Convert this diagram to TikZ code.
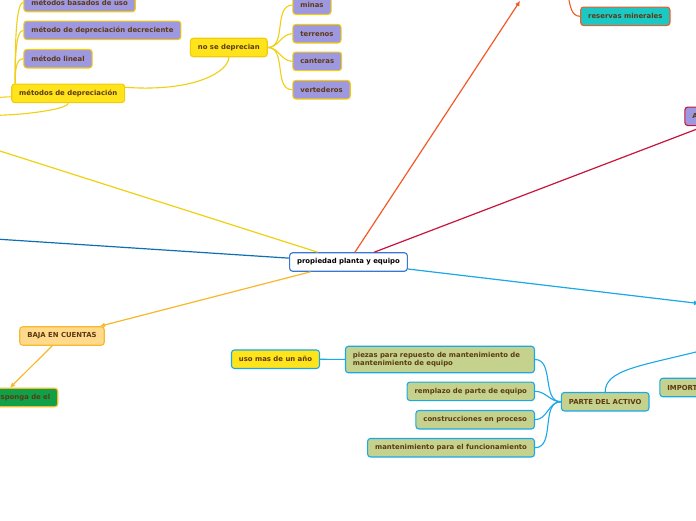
\documentclass[tikz,border=0pt]{standalone}
\usepackage{fontspec}
\setmainfont{DejaVu Sans}
\usepackage{tikz}
\usetikzlibrary{arrows.meta,positioning,calc}

\definecolor{txtbrown}{HTML}{5C3A12}
\definecolor{ylwfill}{HTML}{FFE31B}
\definecolor{ylwedge}{HTML}{F2CB0C}
\definecolor{ylwline}{HTML}{F0D010}
\definecolor{purfill}{HTML}{9E98E0}
\definecolor{cyanfill}{HTML}{1CC8C4}
\definecolor{orgline}{HTML}{F25A28}
\definecolor{crimline}{HTML}{C8143C}
\definecolor{dblline}{HTML}{0F6FB3}
\definecolor{lblline}{HTML}{1AA8E8}
\definecolor{olivefill}{HTML}{C4D28E}
\definecolor{bajafill}{HTML}{FFDA8C}
\definecolor{bajaline}{HTML}{F8B82A}
\definecolor{grnfill}{HTML}{10A048}
\definecolor{mainline}{HTML}{3A75D8}

\begin{document}
\begin{tikzpicture}[
    x=1pt, y=1pt,
    >={Latex[length=5pt,width=5pt]},
    box/.style={rounded corners=3pt, line width=1.1pt,
        font=\fontsize{6.9}{8.3}\selectfont\bfseries, text=txtbrown,
        inner xsep=7.5pt, inner ysep=2pt, minimum height=18.5pt},
    topic/.style={box, draw=mainline, fill=white, text=black},
    ylwbox/.style={box, draw=ylwedge, fill=ylwfill},
    purbox/.style={box, draw=ylwedge, fill=purfill},
    olivebox/.style={box, draw=lblline, fill=olivefill},
    branch/.style={line width=1.2pt},
    twig/.style={line width=1.1pt},
]
\useasboundingbox (0,0) rectangle (696,-520);
\fill[white] (0,0) rectangle (696,-520);
\clip (0,0) rectangle (696,-520);

% central topic
\node[topic] (main) at (348.5,-262) {propiedad planta y equipo};

% yellow branch
\node[ylwbox] (metdep) at (68.2,-93.3) {métodos de depreciación};
\node[purbox, anchor=west] (lineal) at (23.3,-58.7) {método lineal};
\node[purbox, anchor=west] (decrec) at (23.3,-30.3) {método de depreciación decreciente};
\node[purbox, anchor=west] (basados) at (23.3,-2.5) {métodos basados de uso};
\node[ylwbox] (nosedep) at (228.8,-47.5) {no se deprecian};
\node[purbox, anchor=west] (minas) at (292.3,-5.2) {minas};
\node[purbox, anchor=west] (terrenos) at (292.3,-33.7) {terrenos};
\node[purbox, anchor=west] (canteras) at (292.3,-61.3) {canteras};
\node[purbox, anchor=west] (vertederos) at (292.3,-89.7) {vertederos};

% top right
\node[box, draw=orgline, fill=cyanfill] (reservas) at (625.3,-16.3) {reservas minerales};
\node[box, draw=crimline, fill=purfill, anchor=west, text width=76pt, align=left]
    (anode) at (684.3,-116.3) {A};

% bottom left
\node[box, draw=bajaline, fill=bajafill] (baja) at (62,-336) {BAJA EN CUENTAS};
\node[box, draw=bajaline, fill=grnfill, anchor=east, text width=100pt, align=right]
    (disp) at (58.3,-397.5) {disponga de el};

% bottom right
\node[box, draw=lblline, fill=ylwfill] (uso) at (275.5,-359.2) {uso mas de un año};
\node[olivebox, anchor=east, text width=174pt, align=left, minimum height=26.5pt]
    (piezas) at (535,-359.5)
    {piezas para repuesto de mantenimiento de\\mantenimiento de equipo};
\node[olivebox, anchor=east] (remplazo) at (535,-391.3) {remplazo de parte de equipo};
\node[olivebox, anchor=east] (constr) at (535,-419.7) {construcciones en proceso};
\node[olivebox, anchor=east] (mant) at (535,-447.7) {mantenimiento para el funcionamiento};
\node[olivebox] (parte) at (605.2,-401.7) {PARTE DEL ACTIVO};
\node[olivebox, anchor=west, text width=60pt, align=left] (import) at (659.3,-387.5) {IMPORT};

% free ends beyond the frame
\coordinate (offY) at (-60,-131.9);
\coordinate (offDB) at (-60,-235.4);
\coordinate (offOR) at (520,-1);
\coordinate (offLB) at (699,-303.5);
\coordinate (offPA) at (700,-351);
\coordinate (offRM) at (568,4);
\coordinate (offMa) at (-20,-101);
\coordinate (offMb) at (-20,-115);

% main branches
\draw[branch, ylwline] (main) -- (offY);
\draw[branch, dblline] (main) -- (offDB);
\draw[branch, orgline, ->] (main) -- (offOR);
\draw[branch, crimline] (main) -- (anode);
\draw[branch, lblline, ->] (main) -- (offLB);
\draw[branch, bajaline, ->] (main) -- (baja);
\draw[branch, bajaline, ->] (baja) -- (disp);

% sub branches
\foreach \c in {lineal,decrec,basados}
    \draw[twig, ylwline] ([xshift=4pt]metdep.north west) to[out=90, in=180, in max distance=8pt] (\c.west);
\foreach \c in {minas,terrenos,canteras,vertederos}
    \draw[twig, ylwline] (nosedep.east) to[out=0, in=180] (\c.west);
\draw[twig, ylwline] (nosedep.south) .. controls +(0,-14) and +(70,-5) .. ([yshift=6pt]metdep.east);
\draw[twig, ylwline] ([yshift=-3.5pt]metdep.west) to[out=180, in=10] (offMa);
\draw[twig, ylwline] (metdep.south) .. controls +(0,-7) and +(30,-2) .. (offMb);
\draw[twig, orgline] (reservas.west) to[out=180, in=-75] (offRM);

\draw[twig, lblline] (piezas) -- (uso);
\foreach \c in {piezas,remplazo,constr,mant}
    \draw[twig, lblline] (parte.west) to[out=180, in=0] (\c.east);
\draw[twig, lblline] (parte.north) .. controls +(0,22) and +(-60,-15) .. (offPA);
\end{tikzpicture}
\end{document}
